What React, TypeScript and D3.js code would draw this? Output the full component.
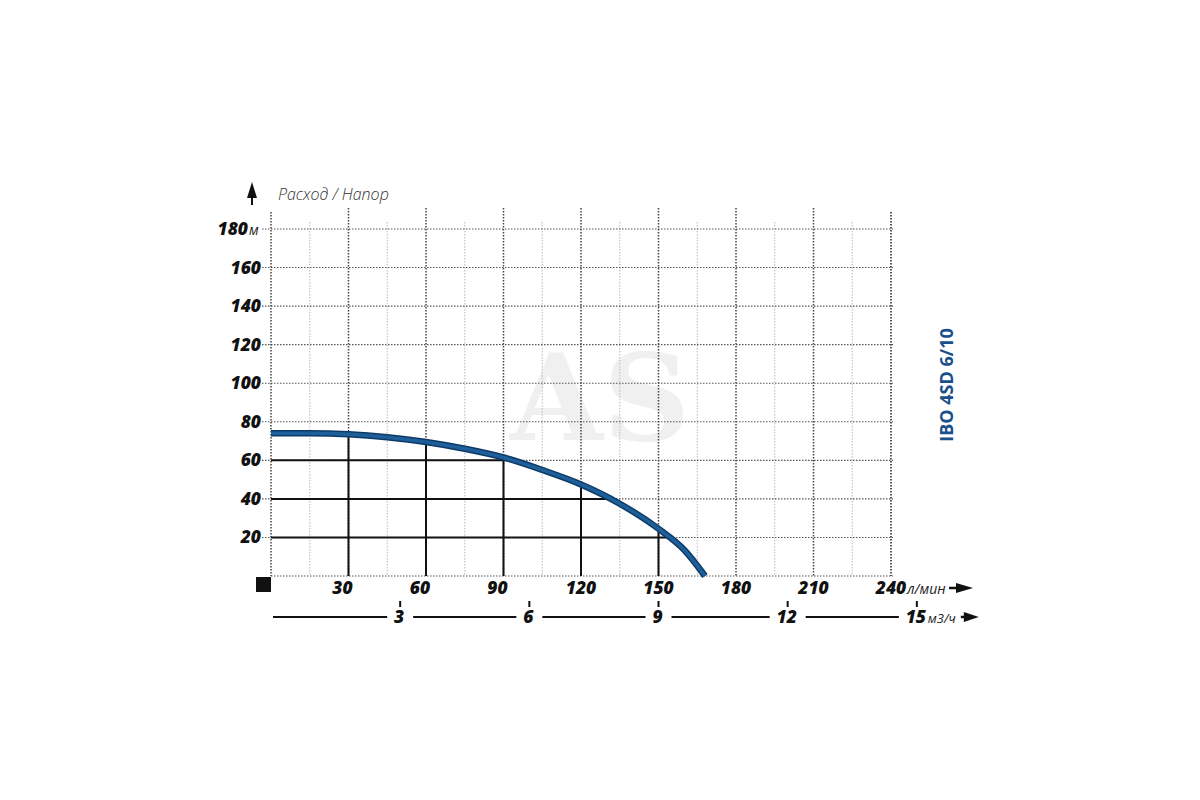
import { useEffect, useRef } from 'react';
import * as d3 from 'd3';

// flow in l/min, head in m
const flowLmin = [0, 15, 30, 45, 60, 75, 90, 105, 120, 135, 150, 160, 168];
const headM = [74, 74, 73.5, 72, 69.5, 66, 61.5, 55, 47.5, 37.5, 24.5, 13.5, 0];

const flowTicks = [30, 60, 90, 120, 150, 180, 210, 240];
const flowMinorTicks = [15, 45, 75, 105, 135, 165, 195, 225];
const headTicks = [20, 40, 60, 80, 100, 120, 140, 160, 180];
const m3Ticks = [3, 6, 9, 12, 15];
const solidFlowLines = [30, 60, 90, 120, 150];
const solidHeadLines = [20, 40, 60];

const modelName = 'IBO 4SD 6/10';
const axisTitle = 'Расход / Напор';

const numFont = '"Open Sans", "DejaVu Sans", sans-serif';

export default function App() {
  const svgRef = useRef<SVGSVGElement>(null);

  useEffect(() => {
    if (!svgRef.current) return;
    const width = 1200;
    const height = 800;
    const svg = d3.select(svgRef.current).attr('width', width).attr('height', height);
    svg.selectAll('*').remove();

    const x = d3.scaleLinear().domain([0, 240]).range([271, 891]);
    const y = d3.scaleLinear().domain([0, 180]).range([576, 229]);
    // 1 m3/h = 1000/60 l/min
    const xM3 = (v: number) => x((v * 1000) / 60);

    const pts = flowLmin.map((q, i) => [q, headM[i]] as [number, number]);
    const headAt = (q: number) => {
      const i = d3.bisectLeft(flowLmin, q);
      if (i <= 0) return headM[0];
      const [q0, h0] = pts[i - 1];
      const [q1, h1] = pts[i];
      return h0 + ((q - q0) / (q1 - q0)) * (h1 - h0);
    };
    const flowAt = (h: number) => {
      for (let i = 1; i < pts.length; i++) {
        const [q0, h0] = pts[i - 1];
        const [q1, h1] = pts[i];
        if (h <= h0 && h >= h1) return q0 + ((h0 - h) / (h0 - h1)) * (q1 - q0);
      }
      return 0;
    };

    // watermark
    svg
      .append('text')
      .attr('x', 600)
      .attr('y', 440)
      .attr('text-anchor', 'middle')
      .style('font-family', '"DejaVu Serif", "Liberation Serif", serif')
      .style('font-weight', 700)
      .style('font-size', '120px')
      .style('fill', '#f0f0f0')
      .text('AS');

    const grid = svg.append('g');

    // minor verticals
    grid
      .selectAll('.minor')
      .data(flowMinorTicks)
      .enter()
      .append('line')
      .attr('x1', (d) => x(d))
      .attr('x2', (d) => x(d))
      .attr('y1', y(180) - 7)
      .attr('y2', y(0))
      .attr('stroke', '#c4c4c4')
      .attr('stroke-width', 1.2)
      .attr('stroke-dasharray', '1.5,1.5');

    // horizontal dotted lines
    grid
      .selectAll('.hline')
      .data([0, ...headTicks])
      .enter()
      .append('line')
      .attr('x1', (d) => (d === 0 ? x(0) : x(0) - 9))
      .attr('x2', x(240) + 2)
      .attr('y1', (d) => y(d))
      .attr('y2', (d) => y(d))
      .attr('stroke', '#555')
      .attr('stroke-width', 1.1)
      .attr('stroke-dasharray', '1.5,1.5');

    // major verticals
    grid
      .selectAll('.major')
      .data([0, ...flowTicks])
      .enter()
      .append('line')
      .attr('x1', (d) => x(d))
      .attr('x2', (d) => x(d))
      .attr('y1', (d) => (d === 0 || d === 240 ? y(180) - 17 : y(180) - 21))
      .attr('y2', y(0))
      .attr('stroke', (d) => (d === 240 ? '#222' : '#444'))
      .attr('stroke-width', 1.5)
      .attr('stroke-dasharray', '1.5,1.5');

    // solid lines under the curve
    grid
      .selectAll('.solidv')
      .data(solidFlowLines)
      .enter()
      .append('line')
      .attr('x1', (d) => x(d))
      .attr('x2', (d) => x(d))
      .attr('y1', y(0))
      .attr('y2', (d) => y(headAt(d)))
      .attr('stroke', '#111')
      .attr('stroke-width', 2);

    grid
      .selectAll('.solidh')
      .data(solidHeadLines)
      .enter()
      .append('line')
      .attr('x1', x(0))
      .attr('x2', (d) => x(flowAt(d)))
      .attr('y1', (d) => y(d))
      .attr('y2', (d) => y(d))
      .attr('stroke', '#111')
      .attr('stroke-width', 2);

    // pump curve
    const line = d3
      .line<[number, number]>()
      .x((d) => x(d[0]))
      .y((d) => y(d[1]))
      .curve(d3.curveMonotoneX);
    svg
      .append('path')
      .attr('d', line(pts))
      .attr('fill', 'none')
      .attr('stroke', '#0d3b68')
      .attr('stroke-width', 6.5);
    svg
      .append('path')
      .attr('d', line(pts))
      .attr('fill', 'none')
      .attr('stroke', '#1f5f99')
      .attr('stroke-width', 3.5);

    // y labels
    const yl = svg.append('g');
    yl.selectAll('text')
      .data(headTicks)
      .enter()
      .append('text')
      .attr('x', (d) => (d === 180 ? 248 : 261))
      .attr('y', (d) => y(d) + 6)
      .attr('text-anchor', 'end')
      .style('font-family', numFont)
      .style('font-size', '17.5px')
      .style('font-weight', 800)
      .style('font-style', 'italic')
      .style('fill', '#111')
      .text((d) => d);
    yl.append('text')
      .attr('x', 249)
      .attr('y', y(180) + 6)
      .style('font-family', numFont)
      .style('font-size', '14px')
      .style('font-style', 'italic')
      .style('fill', '#222')
      .text('м');

    // y arrow + title
    svg
      .append('line')
      .attr('x1', 252)
      .attr('x2', 252)
      .attr('y1', 205)
      .attr('y2', 192)
      .attr('stroke', '#111')
      .attr('stroke-width', 2);
    svg
      .append('path')
      .attr('d', 'M252,182 L247,198 L257,198 Z')
      .attr('fill', '#111');
    svg
      .append('text')
      .attr('x', 278)
      .attr('y', 200)
      .style('font-family', numFont)
      .style('font-size', '16px')
      .style('font-style', 'italic')
      .style('font-weight', 300)
      .style('fill', '#333')
      .text(axisTitle);

    // black square at origin
    svg
      .append('rect')
      .attr('x', x(0) - 15)
      .attr('y', y(0) + 1)
      .attr('width', 15)
      .attr('height', 15)
      .attr('fill', '#111');

    // l/min labels
    const xl = svg.append('g');
    xl.selectAll('text')
      .data(flowTicks)
      .enter()
      .append('text')
      .attr('x', (d) => x(d) - (d < 100 ? 6 : 0))
      .attr('y', y(0) + 18)
      .attr('text-anchor', 'middle')
      .style('font-family', numFont)
      .style('font-size', '17.5px')
      .style('font-weight', 800)
      .style('font-style', 'italic')
      .style('fill', '#111')
      .text((d) => d);
    xl.append('text')
      .attr('x', x(240) + 16)
      .attr('y', y(0) + 18)
      .style('font-family', numFont)
      .style('font-size', '14px')
      .style('font-style', 'italic')
      .style('fill', '#222')
      .text('л/мин');
    const arrowY1 = y(0) + 12;
    xl.append('line')
      .attr('x1', 949)
      .attr('x2', 960)
      .attr('y1', arrowY1)
      .attr('y2', arrowY1)
      .attr('stroke', '#111')
      .attr('stroke-width', 2.5);
    xl.append('path')
      .attr('d', `M973,${arrowY1} L956,${arrowY1 - 5} L956,${arrowY1 + 5} Z`)
      .attr('fill', '#111');

    // m3/h axis
    const m3Y = 617;
    const halfW = (v: number) => (v >= 10 ? 11 : 6);
    const m3 = svg.append('g');
    m3.selectAll('.seg')
      .data(m3Ticks)
      .enter()
      .append('line')
      .attr('x1', (d, i) => (i === 0 ? x(0) + 2 : xM3(m3Ticks[i - 1]) + halfW(m3Ticks[i - 1]) + 7))
      .attr('x2', (d) => xM3(d) - halfW(d) - 7)
      .attr('y1', m3Y)
      .attr('y2', m3Y)
      .attr('stroke', '#111')
      .attr('stroke-width', 2);
    m3.selectAll('.tick')
      .data(m3Ticks)
      .enter()
      .append('line')
      .attr('x1', (d) => xM3(d))
      .attr('x2', (d) => xM3(d))
      .attr('y1', 601)
      .attr('y2', 607)
      .attr('stroke', '#111')
      .attr('stroke-width', 2);
    m3.selectAll('text.num')
      .data(m3Ticks)
      .enter()
      .append('text')
      .attr('x', (d) => xM3(d) - 1)
      .attr('y', 623)
      .attr('text-anchor', 'middle')
      .style('font-family', numFont)
      .style('font-size', '17.5px')
      .style('font-weight', 800)
      .style('font-style', 'italic')
      .style('fill', '#111')
      .text((d) => d);
    m3.append('text')
      .attr('x', xM3(15) + 11)
      .attr('y', 623)
      .style('font-family', numFont)
      .style('font-size', '13px')
      .style('font-style', 'italic')
      .style('fill', '#222')
      .text('м3/ч');
    const m3ArrowEnd = xM3(15) + 62;
    m3.append('line')
      .attr('x1', m3ArrowEnd - 18)
      .attr('x2', m3ArrowEnd - 12)
      .attr('y1', m3Y)
      .attr('y2', m3Y)
      .attr('stroke', '#111')
      .attr('stroke-width', 2.5);
    m3.append('path')
      .attr('d', `M${m3ArrowEnd},${m3Y} L${m3ArrowEnd - 15},${m3Y - 5} L${m3ArrowEnd - 15},${m3Y + 5} Z`)
      .attr('fill', '#111');

    // model name
    svg
      .append('text')
      .attr('transform', 'translate(953,385) rotate(-90)')
      .attr('text-anchor', 'middle')
      .style('font-family', numFont)
      .style('font-size', '18px')
      .style('font-weight', 700)
      .style('fill', '#1a4f8a')
      .text(modelName);
  }, []);

  return (
    <div style={{ position: 'absolute', left: 0, top: 0, width: 1200, height: 800, background: '#fff' }}>
      <svg ref={svgRef} style={{ display: 'block' }} />
    </div>
  );
}
